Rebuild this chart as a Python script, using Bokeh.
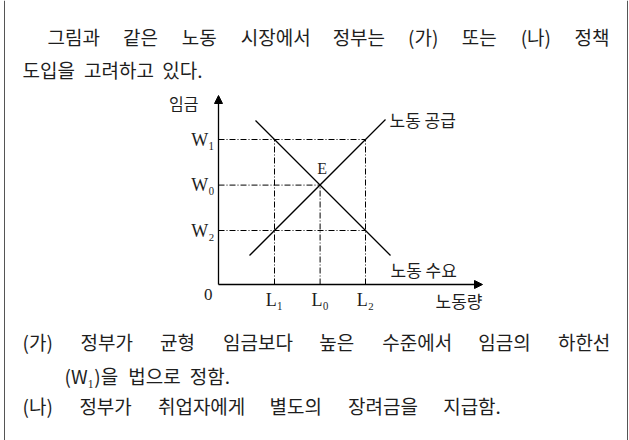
from bokeh.plotting import figure
from bokeh.models import Range1d, Label, Arrow, NormalHead, Span
from bokeh.core.properties import value
from bokeh.embed import file_html
from bokeh.resources import INLINE

# ---------------- data ----------------
wage_labels = ["W₁", "W₀", "W₂"]
wage_values = [7.25, 4.97, 2.7]
labor_labels = ["L₁", "L₀", "L₂"]
labor_values = [2.8, 5.08, 7.35]
supply_labor = [1.55, 8.35]
supply_wage = [1.45, 8.25]
demand_labor = [1.85, 8.6]
demand_wage = [8.2, 1.45]
axis_wage_max = 9.45
axis_labor_max = 13.2
equilibrium_labor = [5.08]
equilibrium_wage = [4.97]

intro_line1 = ["그림과", "같은", "노동", "시장에서", "정부는", "(가)", "또는", "(나)", "정책"]
intro_line2 = ["도입을", "고려하고", "있다."]
item_a_line1 = ["(가)", "정부가", "균형", "임금보다", "높은", "수준에서", "임금의", "하한선"]
item_a_line2 = ["(W₁)을", "법으로", "정함."]
item_b_line1 = ["(나)", "정부가", "취업자에게", "별도의", "장려금을", "지급함."]

KFONT = "Noto Sans CJK KR"
SFONT = "Liberation Serif"
INK = "#1e1e1e"
W, H = 629, 440

p = figure(width=W, height=H, x_range=Range1d(-10.9, 20.55), y_range=Range1d(-7.8, 14.2),
           output_backend="svg", toolbar_location=None, min_border=0,
           x_axis_location=None, y_axis_location=None)
p.grid.visible = False
p.outline_line_color = None
p.background_fill_color = "white"
p.border_fill_color = "white"

# box borders
p.add_layout(Span(location=4, location_units="screen", dimension="height", line_color="#555555", line_width=1))
p.add_layout(Span(location=627, location_units="screen", dimension="height", line_color="#555555", line_width=1))

# axes with arrow heads
p.add_layout(Arrow(x_start=0, y_start=0, x_end=0, y_end=axis_wage_max, line_color="black", line_width=1.3,
                   end=NormalHead(size=8, fill_color="black", line_color="black")))
p.add_layout(Arrow(x_start=0, y_start=0, x_end=axis_labor_max, y_end=0, line_color="black", line_width=1.3,
                   end=NormalHead(size=8, fill_color="black", line_color="black")))

# dash-dot guide lines
w1, w0, w2 = wage_values
l1, l0, l2 = labor_values
p.segment(x0=[0, 0, 0, l1, l0, l2], y0=[w1, w0, w2, 0, 0, 0],
          x1=[l2, l0, l2, l1, l0, l2], y1=[w1, w0, w2, w1, w0, w1],
          line_color="black", line_width=1, line_dash="6 2 1 2")

# supply and demand
p.line(supply_labor, supply_wage, line_color="black", line_width=1.3)
p.line(demand_labor, demand_wage, line_color="black", line_width=1.3)

# chart labels
p.text(x=[0] * 3, y=wage_values, text=wage_labels, text_align="right", text_baseline="middle",
       x_offset=-4, text_font=value(SFONT), text_font_size="18px", text_color=INK)
p.text(x=labor_values, y=[0] * 3, text=labor_labels, text_align="center", text_baseline="middle",
       y_offset=15, text_font=value(SFONT), text_font_size="18px", text_color=INK)
p.text(x=[0], y=[0], text=["0"], text_align="right", text_baseline="middle",
       x_offset=-6, y_offset=10, text_font=value(SFONT), text_font_size="17px", text_color=INK)
p.text(x=equilibrium_labor, y=equilibrium_wage, text=["E"], text_align="center", text_baseline="middle",
       x_offset=2, y_offset=-17, text_font=value(SFONT), text_font_size="16px", text_color=INK)
p.text(x=[0], y=[axis_wage_max], text=["임금"], text_align="right", text_baseline="middle",
       x_offset=-20, y_offset=7, text_font=value(KFONT), text_font_size="16px", text_color=INK)
p.text(x=[supply_labor[-1]], y=[supply_wage[-1]], text=["노동 공급"], text_align="left", text_baseline="middle",
       x_offset=4, y_offset=0, text_font=value(KFONT), text_font_size="17px", text_color=INK)
p.text(x=[demand_labor[-1]], y=[demand_wage[-1]], text=["노동 수요"], text_align="left", text_baseline="middle",
       x_offset=0, y_offset=14, text_font=value(KFONT), text_font_size="17px", text_color=INK)
p.text(x=[axis_labor_max], y=[0], text=["노동량"], text_align="right", text_baseline="middle",
       x_offset=0, y_offset=16, text_font=value(KFONT), text_font_size="17px", text_color=INK)

# paragraph text (page pixel positions, justified where the source is)
FS = 19


def est_width(word):
    w = 0.0
    for ch in word:
        if "\uac00" <= ch <= "\ud7a3":
            w += 0.87 * FS
        elif ch in "()":
            w += 0.3 * FS
        elif ch == ".":
            w += 0.25 * FS
        elif ch == "W":
            w += 0.8 * FS
        elif ch in "₀₁₂":
            w += 0.45 * FS
        else:
            w += 0.5 * FS
    return w


def place(words, x_start, y_page, x_end=None, gap=10):
    widths = [est_width(w) for w in words]
    if x_end is not None and len(words) > 1:
        gap = (x_end - x_start - sum(widths)) / (len(words) - 1)
    x = x_start
    for word, wd in zip(words, widths):
        p.add_layout(Label(x=x, y=H - y_page, x_units="screen", y_units="screen", text=word,
                           text_font=KFONT, text_font_size=f"{FS}px", text_color=INK,
                           text_baseline="middle", text_align="left"))
        x += wd + gap


place(intro_line1, 47, 36, 607)
place(intro_line2, 22, 69, gap=12)
place(item_a_line1, 22, 341, 607)
place(item_a_line2, 64, 375, gap=12)
place(item_b_line1, 22, 405, 497)

open("out.html", "w").write(file_html(p, INLINE))
